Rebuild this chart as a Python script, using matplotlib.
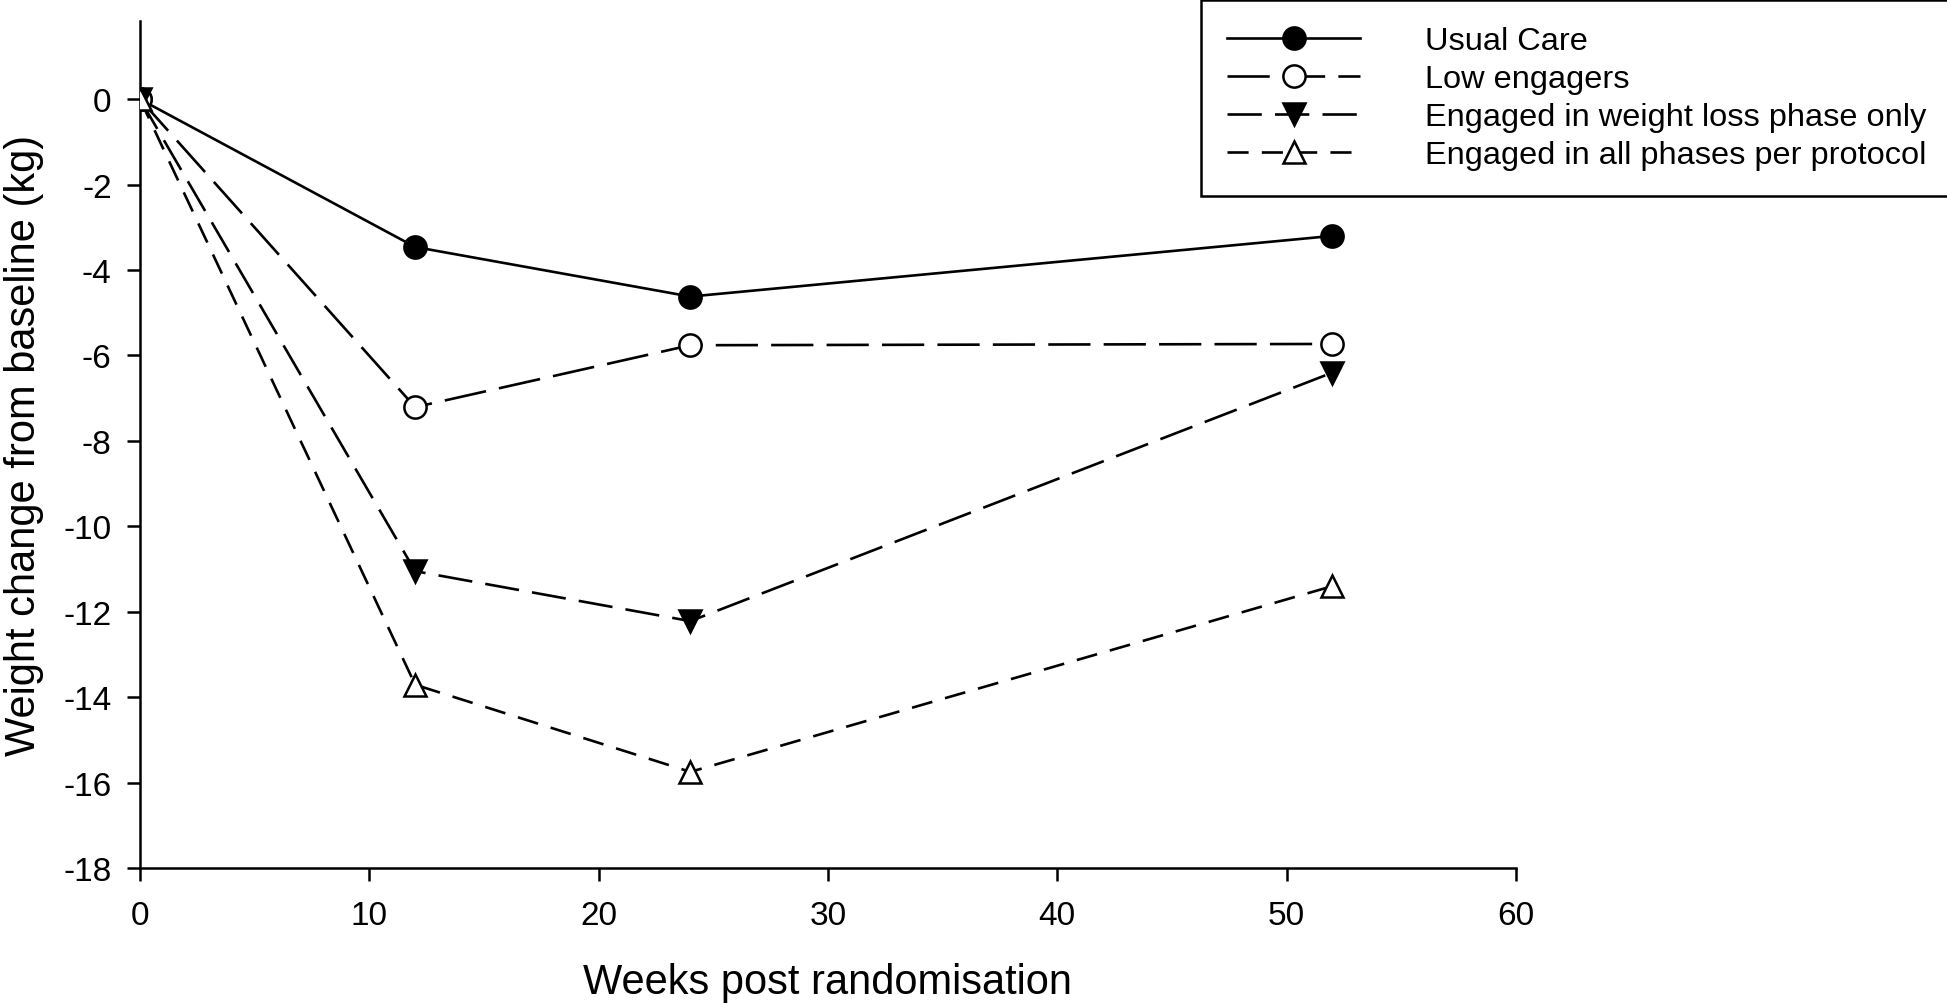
import matplotlib
matplotlib.use("Agg")
import matplotlib.pyplot as plt

plt.rcParams['font.family'] = ['Liberation Sans', 'DejaVu Sans']

weeks = [0, 12, 24, 52]
usual_care = [0, -3.46, -4.62, -3.2]
low_engagers = [0, -7.21, -5.76, -5.73]
weight_loss_only = [0, -11.05, -12.22, -6.4]
all_phases = [0, -13.71, -15.75, -11.4]

labels = ["Usual Care", "Low engagers", "Engaged in weight loss phase only",
          "Engaged in all phases per protocol"]
xticks = [0, 10, 20, 30, 40, 50, 60]
yticks = [0, -2, -4, -6, -8, -10, -12, -14, -16, -18]

fig = plt.figure(figsize=(19.47, 10.04), dpi=100)
ax = fig.add_axes([0.0719, 0.1345, 0.7067, 0.8435])

lw = 1.9
ms = 16
ax.plot(weeks, usual_care, color='black', lw=lw, ls='-', marker='o', ms=ms,
        mfc='black', mec='black', mew=1.8, label=labels[0], zorder=3)
ax.plot(weeks, low_engagers, color='black', lw=lw, ls=(0, (16, 5)), marker='o', ms=ms,
        mfc='white', mec='black', mew=1.8, label=labels[1], zorder=3)
ax.plot(weeks, weight_loss_only, color='black', lw=lw, ls=(0, (13, 5)), marker='v', ms=ms,
        mfc='black', mec='black', mew=1.8, label=labels[2], zorder=3)
ax.plot(weeks, all_phases, color='black', lw=lw, ls=(0, (8, 5)), marker='^', ms=ms,
        mfc='white', mec='black', mew=1.8, label=labels[3], zorder=3)

ax.set_xlim(0, 60)
ax.set_ylim(-18, 1.83)
ax.set_xticks(xticks)
ax.set_yticks(yticks)
ax.set_xticklabels([str(t) for t in xticks])
ax.set_yticklabels([str(t) for t in yticks])
for s in ['top', 'right']:
    ax.spines[s].set_visible(False)
for s in ['left', 'bottom']:
    ax.spines[s].set_linewidth(1.8)
ax.tick_params(direction='out', length=9.4, width=1.8, labelsize=24)
ax.tick_params(axis='y', pad=11)
ax.tick_params(axis='x', pad=14)
for lab in ax.get_xticklabels() + ax.get_yticklabels():
    lab.set_clip_on(False)

ax.set_xlabel("Weeks post randomisation", fontsize=30, labelpad=22)
ax.set_ylabel("Weight change from baseline (kg)", fontsize=30, labelpad=14)

leg = fig.legend(loc='upper left', bbox_to_anchor=(0.6168, 0.999), fontsize=23.4,
                 frameon=True, fancybox=False, edgecolor='black', framealpha=1,
                 handlelength=4.1, handletextpad=2.0, borderpad=0.8,
                 labelspacing=0.25, borderaxespad=0.0)
leg.get_frame().set_linewidth(1.8)

fig.savefig("out.png", dpi=100)
